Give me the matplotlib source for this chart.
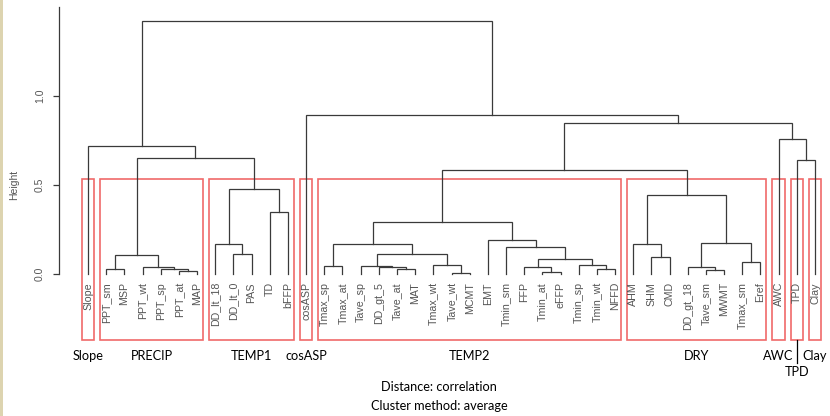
import matplotlib
matplotlib.use("Agg")
import numpy as np
from matplotlib import pyplot as plt
from matplotlib.patches import Rectangle

# leaf order as drawn by hclust
leaves = ["Slope", "PPT_sm", "MSP", "PPT_wt", "PPT_sp", "PPT_at", "MAP",
          "DD_lt_18", "DD_lt_0", "PAS", "TD", "bFFP", "cosASP",
          "Tmax_sp", "Tmax_at", "Tave_sp", "DD_gt_5", "Tave_at", "MAT",
          "Tmax_wt", "Tave_wt", "MCMT", "EMT", "Tmin_sm", "FFP", "Tmin_at",
          "eFFP", "Tmin_sp", "Tmin_wt", "NFFD", "AHM", "SHM", "CMD",
          "DD_gt_18", "Tave_sm", "MWMT", "Tmax_sm", "Eref", "AWC", "TPD", "Clay"]

# merges: (left, right, height); int = index of an earlier merge
merges = [
    ("PPT_sm", "MSP", 0.026),      # 0
    ("PPT_at", "MAP", 0.019),      # 1
    ("PPT_sp", 1, 0.028),          # 2
    ("PPT_wt", 2, 0.041),          # 3
    (0, 3, 0.105),                 # 4
    ("DD_lt_0", "PAS", 0.112),     # 5
    ("DD_lt_18", 5, 0.168),        # 6
    ("TD", "bFFP", 0.35),          # 7
    (6, 7, 0.477),                 # 8
    (4, 8, 0.65),                  # 9
    ("Slope", 9, 0.72),            # 10
    ("Tmax_sp", "Tmax_at", 0.045), # 11
    ("Tave_at", "MAT", 0.026),     # 12
    ("DD_gt_5", 12, 0.037),        # 13
    ("Tave_sp", 13, 0.045),        # 14
    ("Tave_wt", "MCMT", 0.006),    # 15
    ("Tmax_wt", 15, 0.049),        # 16
    (14, 16, 0.112),               # 17
    (11, 17, 0.168),               # 18
    ("Tmin_at", "eFFP", 0.013),    # 19
    ("FFP", 19, 0.037),            # 20
    ("Tmin_wt", "NFFD", 0.028),    # 21
    ("Tmin_sp", 21, 0.05),         # 22
    (20, 22, 0.082),               # 23
    ("Tmin_sm", 23, 0.15),         # 24
    ("EMT", 24, 0.19),             # 25
    (18, 25, 0.293),               # 26
    ("SHM", "CMD", 0.094),         # 27
    ("AHM", 27, 0.168),            # 28
    ("Tave_sm", "MWMT", 0.022),    # 29
    ("DD_gt_18", 29, 0.041),       # 30
    ("Tmax_sm", "Eref", 0.066),    # 31
    (30, 31, 0.176),               # 32
    (28, 32, 0.443),               # 33
    (26, 33, 0.583),               # 34
    ("TPD", "Clay", 0.64),         # 35
    ("AWC", 35, 0.755),            # 36
    (34, 36, 0.845),               # 37
    ("cosASP", 37, 0.89),          # 38
    (10, 38, 1.42),                # 39
]

# cut into k = 9 groups
group_names = ["Slope", "PRECIP", "TEMP1", "cosASP", "TEMP2", "DRY", "AWC", "TPD", "Clay"]
group_sizes = [1, 6, 5, 1, 17, 8, 1, 1, 1]

line_col = "#3a3a3a"
text_col = "#555555"
box_col = "#f06a6a"

fig = plt.figure(figsize=(8.3, 4.16), dpi=100)
fig.patches.append(Rectangle((0, 0), 3 / 830, 1, transform=fig.transFigure,
                             facecolor="#ddd4b0", edgecolor="none"))
ax = fig.add_axes([0, 0, 1, 1])
ax.set_xlim(-4.842, 40.825)
ax.set_ylim(-0.7964, 1.5367)
ax.patch.set_alpha(0)

pos = {name: i for i, name in enumerate(leaves)}


def node_xy(ref, nodes):
    if isinstance(ref, str):
        return pos[ref], 0.0
    return nodes[ref]


nodes = []
for left, right, h in merges:
    x1, y1 = node_xy(left, nodes)
    x2, y2 = node_xy(right, nodes)
    ax.plot([x1, x1, x2, x2], [y1, h, h, y2], color=line_col, lw=0.9,
            solid_joinstyle="miter", clip_on=False)
    nodes.append(((x1 + x2) / 2, h))

for i, name in enumerate(leaves):
    ax.text(i, -0.045, name, rotation=90, ha="center", va="top",
            fontsize=7.7, color=text_col, family="Liberation Sans")

# rect.hclust boxes
heights = sorted([m[2] for m in merges], reverse=True)
box_top = (heights[7] + heights[8]) / 2
box_bottom = -0.37
start = 0
centers = []
for name, size in zip(group_names, group_sizes):
    x0 = start - 0.34
    x1 = start + size - 1 + 0.33
    ax.add_patch(Rectangle((x0, box_bottom), x1 - x0, box_top - box_bottom,
                           fill=False, edgecolor=box_col, lw=1.2, clip_on=False))
    centers.append((x0 + x1) / 2)
    start += size

for name, cx in zip(group_names, centers):
    if name == "TPD":
        ax.plot([cx, cx], [box_bottom, -0.50], color="black", lw=0.9)
        ax.text(cx, -0.55, name, ha="center", va="center", fontsize=9.2,
                family="Lato", color="black")
    else:
        ax.text(cx, -0.46, name, ha="center", va="center", fontsize=9.2,
                family="Lato", color="black")

# y axis
for s in ["top", "right", "bottom"]:
    ax.spines[s].set_visible(False)
ax.spines["left"].set_position(("data", -1.6))
ax.spines["left"].set_bounds(0, 1.5)
ax.spines["left"].set_color(line_col)
ax.spines["left"].set_linewidth(0.9)
ax.set_xticks([])
ax.set_yticks([0, 0.5, 1.0])
ax.set_yticklabels(["0.0", "0.5", "1.0"], rotation=90, va="center",
                   family="Liberation Sans", fontsize=7.5, color=text_col)
ax.tick_params(axis="y", length=4, width=0.9, color=line_col, pad=6)
ax.set_ylabel("Height", family="Liberation Sans", fontsize=7.5, color=text_col)
ax.yaxis.set_label_coords(19.5 / 830, (416 - 185) / 416)

fig.text(439 / 830, 1 - 387 / 416, "Distance: correlation", ha="center",
         va="center", fontsize=9.2, family="Lato")
fig.text(439 / 830, 1 - 406 / 416, "Cluster method: average", ha="center",
         va="center", fontsize=9.2, family="Lato")

fig.savefig("out.png", dpi=100)
